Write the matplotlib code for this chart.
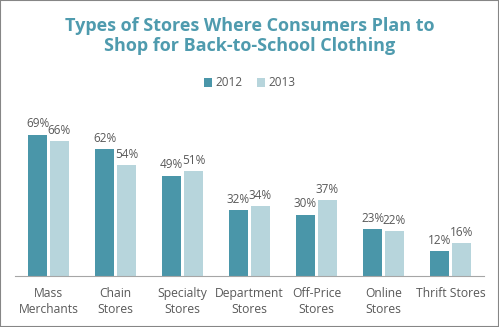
import matplotlib
matplotlib.use("Agg")
import matplotlib.pyplot as plt
import numpy as np

categories = ["Mass\nMerchants", "Chain\nStores", "Specialty\nStores", "Department\nStores",
              "Off-Price\nStores", "Online\nStores", "Thrift Stores"]
v2012 = [69, 62, 49, 32, 30, 23, 12]
v2013 = [66, 54, 51, 34, 37, 22, 16]
series_names = ["2012", "2013"]

c2012 = "#4A96A9"
c2013 = "#B7D5DC"
tcol = "#595959"
font = ["Open Sans", "DejaVu Sans"]

W, H = 499, 327
fig = plt.figure(figsize=(W / 100, H / 100), dpi=100)
fig.patch.set_facecolor("white")
ax = fig.add_axes([15 / W, 1 - 276 / H, (484 - 15) / W, (276 - 110) / H])

x = np.arange(len(categories))
bw = 0.27
off = 0.164
b1 = ax.bar(x - off, v2012, bw, color=c2012, label=series_names[0])
b2 = ax.bar(x + off, v2013, bw, color=c2013, label=series_names[1])
for bars, vals in ((b1, v2012), (b2, v2013)):
    for r, v in zip(bars, vals):
        ax.annotate(f"{v}%", (r.get_x() + r.get_width() / 2, v), xytext=(0, 3),
                    textcoords="offset points", ha="center", va="bottom",
                    fontsize=8.5, color=tcol, family=font)

ax.set_xlim(-0.5, len(categories) - 0.5)
ax.set_ylim(0, 81)
ax.set_yticks([])
ax.set_xticks(x)
ax.set_xticklabels(categories, fontsize=8.7, color=tcol, family=font, linespacing=1.3)
ax.tick_params(axis="x", length=0, pad=8)
for s in ("top", "right", "left"):
    ax.spines[s].set_visible(False)
ax.spines["bottom"].set_color("#A6A6A6")

fig.text(0.5, 1 - 36 / H, "Types of Stores Where Consumers Plan to\nShop for Back-to-School Clothing",
         ha="center", va="center", fontsize=13, fontweight="bold", color="#4F9BAE",
         family=font, linespacing=1.2)
leg = fig.legend(handles=[b1, b2], loc="center", bbox_to_anchor=(0.5, 1 - 83 / H), ncol=2,
                 frameon=False, handlelength=0.7, handleheight=0.7,
                 handletextpad=0.3, columnspacing=1.2, prop={"family": font, "size": 8.5})
for t in leg.get_texts():
    t.set_color(tcol)

border = plt.Rectangle((0, 0), 1, 1, transform=fig.transFigure, fill=False,
                       edgecolor="#868686", linewidth=1.5)
fig.add_artist(border)

fig.savefig("out.png", dpi=100)
